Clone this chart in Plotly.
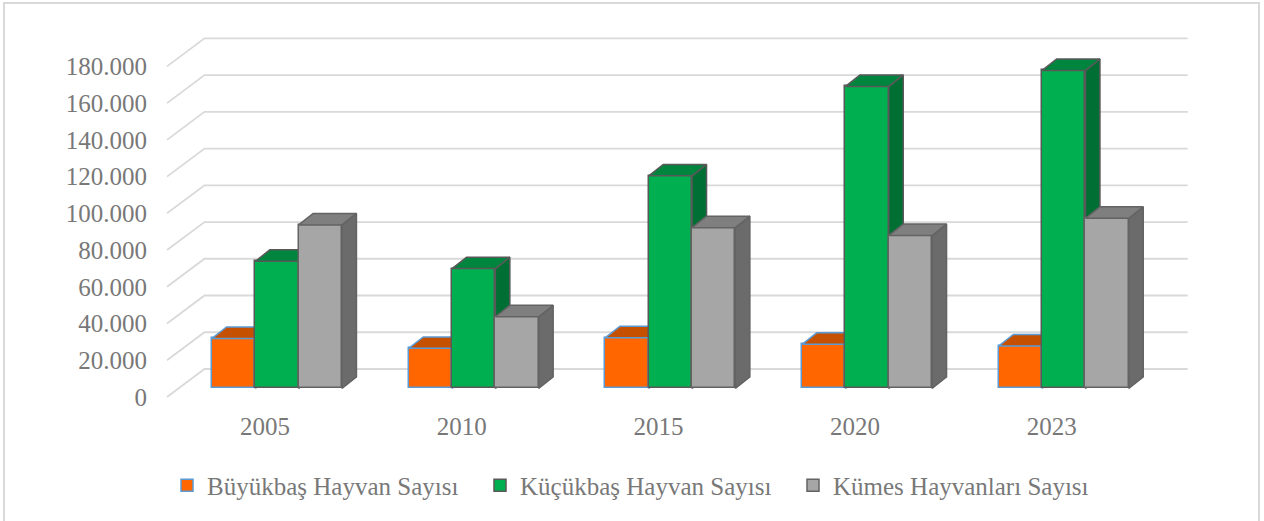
import plotly.graph_objects as go

# ---------------- data ----------------
years = ["2005", "2010", "2015", "2020", "2023"]
series_names = ["Büyükbaş Hayvan Sayısı", "Küçükbaş Hayvan Sayısı", "Kümes Hayvanları Sayısı"]
buyukbas = [27200, 21800, 27600, 24000, 23100]
kucukbas = [69200, 65200, 115700, 164400, 173100]
kumes = [89000, 39000, 87500, 83200, 92600]
y_ticks = [0, 20000, 40000, 60000, 80000, 100000, 120000, 140000, 160000, 180000]

# ---------------- styles ----------------
front_colors = ["#FF6600", "#00B050", "#A6A6A6"]
top_colors = ["#C55000", "#00853E", "#7F7F7F"]
side_colors = ["#A84400", "#006F33", "#6B6B6B"]
edge_colors = ["#5B9BD5", "#595959", "#636363"]
FONT = "Liberation Serif"
TEXT_COLOR = "#787878"
GRID_COLOR = "#D9D9D9"

# ---------------- geometry (pixels) ----------------
W, H = 1264, 521
PL, PR, PT, PB = 160, 1200, 20, 405      # plot area in pixels
X_PX = 196.7                              # pixels per category
Y_PX = 1.8465                             # pixels per 1000
X0_PX = 277                               # front centre of first group
BASE_PX = 390.3                           # bar base (front)


def dxu(px):
    return px / X_PX


def dyu(px):
    return px / Y_PX * 1000


xr = [dxu(PL - X0_PX), dxu(PR - X0_PX)]
yr = [dyu(BASE_PX - PB), dyu(BASE_PX - PT)]

BW = dxu(43.3)
DEPTH_X = dxu(14.5)
DEPTH_Y = dyu(11.5)

fig = go.Figure()

# gridlines in perspective (base subplot)
gx, gy = [], []
for v in y_ticks:
    yf = v - dyu(8.7)
    yb = v + dyu(19.5)
    gx += [dxu(167 - X0_PX), dxu(204.5 - X0_PX), dxu(1187.7 - X0_PX), None]
    gy += [yf, yb, yb, None]
fig.add_trace(go.Scatter(x=gx, y=gy, mode="lines", line=dict(color=GRID_COLOR, width=1.8),
                         hoverinfo="skip", showlegend=False, xaxis="x", yaxis="y"))

all_series = [buyukbas, kucukbas, kumes]
for j, vals in enumerate(all_series):
    xa = f"x{j + 2}"
    ya = f"y{j + 2}"
    off = -1.5 * BW + j * BW
    fig.add_trace(go.Bar(
        x=list(range(len(years))), y=vals, width=BW, offset=off,
        name=series_names[j],
        marker=dict(color=front_colors[j], line=dict(color=edge_colors[j], width=1.5)),
        xaxis=xa, yaxis=ya,
    ))
    sx, sy, tx, ty = [], [], [], []
    for i, v in enumerate(vals):
        x0 = i + off
        x1 = x0 + BW
        # side face
        sx += [x1, x1, x1 + DEPTH_X, x1 + DEPTH_X, x1, None]
        sy += [0, v, v + DEPTH_Y, DEPTH_Y, 0, None]
        # top face
        tx += [x0, x1, x1 + DEPTH_X, x0 + DEPTH_X, x0, None]
        ty += [v, v, v + DEPTH_Y, v + DEPTH_Y, v, None]
    fig.add_trace(go.Scatter(x=sx, y=sy, mode="lines", fill="toself", fillcolor=side_colors[j],
                             line=dict(color=edge_colors[j], width=1.5), hoverinfo="skip",
                             showlegend=False, xaxis=xa, yaxis=ya))
    fig.add_trace(go.Scatter(x=tx, y=ty, mode="lines", fill="toself", fillcolor=top_colors[j],
                             line=dict(color=edge_colors[j], width=1.5), hoverinfo="skip",
                             showlegend=False, xaxis=xa, yaxis=ya))

tick_text = [f"{v:,}".replace(",", ".") for v in y_ticks]

layout = dict(
    width=W, height=H, autosize=False,
    margin=dict(l=PL, r=W - PR, t=PT, b=H - PB, pad=0),
    paper_bgcolor="white", plot_bgcolor="rgba(0,0,0,0)",
    font=dict(family=FONT, size=25, color=TEXT_COLOR),
    bargap=0,
    xaxis=dict(range=xr, fixedrange=True, showgrid=False, zeroline=False, showline=False,
               tickvals=[i + dxu(-12) for i in range(len(years))], ticktext=years,
               ticks="", ticklabelstandoff=6),
    yaxis=dict(range=yr, fixedrange=True, showgrid=False, zeroline=False, showline=False,
               tickvals=[v - dyu(8.7) for v in y_ticks], ticktext=tick_text,
               ticks="", ticklabelstandoff=12),
    legend=dict(orientation="h", x=(167 - PL) / (PR - PL), xanchor="left",
                y=(PB - 488) / (PB - PT), yanchor="middle",
                font=dict(family=FONT, size=25, color=TEXT_COLOR),
                entrywidth=268, itemclick=False, itemdoubleclick=False),
    showlegend=True,
    shapes=[dict(type="rect", xref="paper", yref="paper",
                 x0=(4 - PL) / (PR - PL), x1=(1259 - PL) / (PR - PL),
                 y0=(PB - 530) / (PB - PT), y1=(PB - 3) / (PB - PT),
                 line=dict(color="#D9D9D9", width=2), layer="below")],
)
for k in range(2, 5):
    layout[f"xaxis{k}"] = dict(range=xr, overlaying="x", visible=False, fixedrange=True)
    layout[f"yaxis{k}"] = dict(range=yr, overlaying="y", visible=False, fixedrange=True)

fig.update_layout(**layout)
fig.write_html("out.html", config={"displayModeBar": False},
               post_script="document.body.style.margin='0';document.body.style.overflow='hidden';")
